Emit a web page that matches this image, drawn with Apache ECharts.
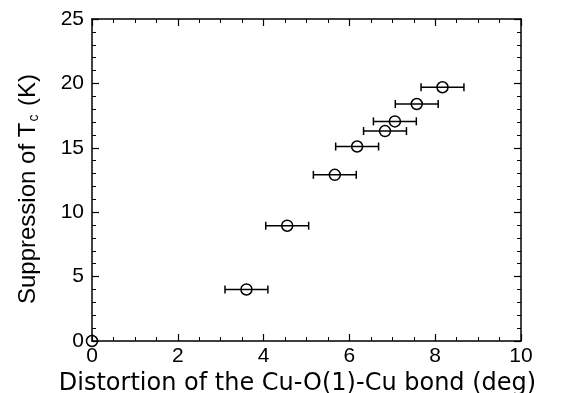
<!DOCTYPE html>
<html>
<head>
<meta charset="utf-8">
<script src="https://cdn.jsdelivr.net/npm/echarts@6/dist/echarts.min.js"></script>
<style>
  html, body { margin: 0; padding: 0; background: #fff; }
  #main { width: 561px; height: 393px; }
</style>
</head>
<body>
<div id="main"></div>
<script>
// distortion angle (deg) and Tc suppression (K)
var distortion = [0, 3.6, 4.55, 5.66, 6.18, 6.83, 7.06, 7.57, 8.17];
var suppression = [0, 4.0, 8.95, 12.9, 15.1, 16.3, 17.05, 18.4, 19.7];
var xErr = [0, 0.5, 0.5, 0.5, 0.5, 0.5, 0.5, 0.5, 0.5];

var font = "Liberation Sans, Arial, Helvetica, sans-serif";

var points = distortion.map(function (x, i) { return [x, suppression[i]]; });
var bars = distortion.map(function (x, i) {
  return [x - xErr[i], x + xErr[i], suppression[i]];
}).filter(function (d) { return d[1] > d[0]; });

var myChart = echarts.init(document.getElementById("main"));

var axisLine = { show: true, onZero: false, lineStyle: { color: "#000", width: 1.5 } };
var tickIn = { show: true, inside: true, length: 7, lineStyle: { color: "#000", width: 1.2 } };
var minorIn = { show: true, length: 4, lineStyle: { color: "#000", width: 1 } };

myChart.setOption({
  animation: false,
  grid: { left: 92, right: 40, top: 19, bottom: 52, containLabel: false, outerBoundsMode: "none" },
  xAxis: [
    {
      type: "value", min: 0, max: 10, interval: 2,
      name: "Distortion of the Cu-O(1)-Cu bond (deg)",
      nameLocation: "middle", nameGap: 24,
      nameTextStyle: { fontFamily: "DejaVu Sans", fontSize: 24, color: "#000", padding: [0, 18, 0, 0] },
      axisLine: axisLine, axisTick: tickIn,
      minorTick: Object.assign({ splitNumber: 4 }, minorIn),
      splitLine: { show: false },
      axisLabel: { fontFamily: font, fontSize: 21, color: "#000", margin: 5 }
    },
    {
      type: "value", min: 0, max: 10, interval: 2, position: "top",
      axisLine: axisLine, axisTick: tickIn,
      minorTick: Object.assign({ splitNumber: 4 }, minorIn),
      splitLine: { show: false }, axisLabel: { show: false }
    }
  ],
  yAxis: [
    {
      type: "value", min: 0, max: 25, interval: 5,
      name: "Suppression of T{sub|c} (K)",
      nameLocation: "middle", nameGap: 51,
      nameTextStyle: {
        fontFamily: font, fontSize: 24, color: "#000",
        padding: [0, 18, 0, 0],
        rich: { sub: { fontFamily: font, fontSize: 14, color: "#000", padding: [12, 2, 0, 1] } }
      },
      axisLine: axisLine, axisTick: tickIn,
      minorTick: Object.assign({ splitNumber: 5 }, minorIn),
      splitLine: { show: false },
      axisLabel: { fontFamily: font, fontSize: 21, color: "#000", margin: 8 }
    },
    {
      type: "value", min: 0, max: 25, interval: 5, position: "right",
      axisLine: axisLine, axisTick: tickIn,
      minorTick: Object.assign({ splitNumber: 5 }, minorIn),
      splitLine: { show: false }, axisLabel: { show: false }
    }
  ],
  series: [
    {
      type: "custom",
      xAxisIndex: 0, yAxisIndex: 0,
      data: bars,
      renderItem: function (params, api) {
        var a = api.coord([api.value(0), api.value(2)]);
        var b = api.coord([api.value(1), api.value(2)]);
        var cap = 4;
        var st = { stroke: "#000", lineWidth: 1.5 };
        return {
          type: "group",
          children: [
            { type: "line", shape: { x1: a[0], y1: a[1], x2: b[0], y2: b[1] }, style: st },
            { type: "line", shape: { x1: a[0], y1: a[1] - cap, x2: a[0], y2: a[1] + cap }, style: st },
            { type: "line", shape: { x1: b[0], y1: b[1] - cap, x2: b[0], y2: b[1] + cap }, style: st }
          ]
        };
      },
      z: 2
    },
    {
      type: "scatter",
      xAxisIndex: 0, yAxisIndex: 0,
      data: points,
      symbol: "circle",
      symbolSize: 11,
      clip: false,
      itemStyle: { color: "rgba(0,0,0,0)", borderColor: "#000", borderWidth: 1.5, opacity: 1 },
      z: 3
    }
  ]
});
</script>
</body>
</html>
